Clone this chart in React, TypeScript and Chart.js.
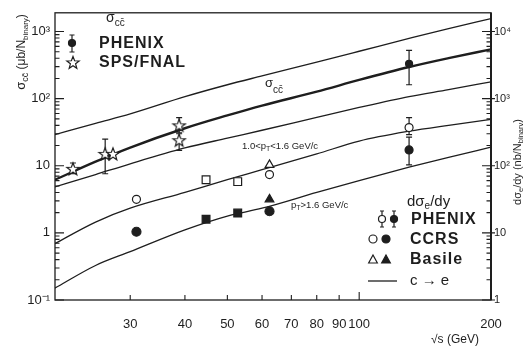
import React, { useEffect, useRef } from "react";
import { Chart, registerables } from "chart.js";

Chart.register(...registerables);

const FONT = '"Liberation Sans", Arial, Helvetica, sans-serif';
const INK = "#1e1e1e";

// ---- axis ticks ----
const xTickValues = [30, 40, 50, 60, 70, 80, 90, 100, 200];
const xTickLabels = ["30", "40", "50", "60", "70", "80", "90", "100", "200"];
const leftTickValues = [0.1, 1, 10, 100, 1000];
const leftTickLabels = ["10⁻¹", "1", "10", "10²", "10³"];
const rightTickValues = [1, 10, 100, 1000, 10000];
const rightTickLabels = ["1", "10", "10²", "10³", "10⁴"];

// ---- model curves, √s in GeV ----
const curveEnergies = [20, 25, 30, 40, 50, 60, 80, 100, 130, 160, 200];
// σ_cc̄ (μb/N_binary)
const sigmaUpper = [28.6, 42.9, 59.2, 107, 161, 218, 350, 508, 789, 1107, 1553];
const sigmaCentral = [6.0, 11.5, 18.7, 36.2, 56.2, 78.9, 127, 190, 296, 401, 543];
const sigmaLower = [4.75, 7.4, 10.7, 18.4, 25.8, 33.8, 52.6, 73.8, 107, 136, 178];
// c → e, dσ_e/dy (nb/N_binary)
const electronMidPt = [6.7, 14.5, 23.3, 40.1, 62.2, 87.3, 150, 233, 327, 401, 491];
const electronHighPt = [1.45, 3.27, 5.26, 11.1, 17.8, 23.3, 40.1, 60.2, 95.1, 133, 190];

// ---- measured σ_cc̄ ----
const phenixSigmaEnergy = [130];
const phenixSigma = [330];
const phenixSigmaLow = [161];
const phenixSigmaHigh = [525];

const spsEnergy = [22.2, 26.3, 27.4, 38.8, 38.8];
const spsSigma = [9.0, 15, 15, 40, 24];
const spsLow = [7.6, 7.6, null, 31, 17];
const spsHigh = [11, 25, null, 52, 30];

// ---- measured single electrons (open: 1.0<pT<1.6, filled: pT>1.6) ----
const phenixElecEnergy = [130];
const phenixElecMid = [370];
const phenixElecMidLow = [290];
const phenixElecMidHigh = [520];
const phenixElecHigh = [172];
const phenixElecHighLow = [103];
const phenixElecHighHigh = [267];

const ccrsEnergy = [31, 44.7, 52.8, 62.4];
const ccrsMid = [31.6, 62, 58, 74];
const ccrsHigh = [10.4, 16, 19.7, 21];
const ccrsShapes = ["circle", "rect", "rect", "circle"];

const basileEnergy = [62.4];
const basileMid = [103];
const basileHigh = [31.6];

const pts = (xs: number[], ys: number[]) => xs.map((x, i) => ({ x, y: ys[i] }));

type Part = { t: string; size: number; weight?: string; style?: string; dy?: number };
const fontOf = (p: Part) => `${p.style || "normal"} ${p.weight || "normal"} ${p.size}px ${FONT}`;

function rich(ctx: CanvasRenderingContext2D, x: number, y: number, parts: Part[], align = "left") {
  ctx.textBaseline = "alphabetic";
  ctx.textAlign = "left";
  const widths = parts.map((p) => {
    ctx.font = fontOf(p);
    return ctx.measureText(p.t).width;
  });
  const total = widths.reduce((a, b) => a + b, 0);
  let cx = align === "center" ? x - total / 2 : x;
  parts.forEach((p, i) => {
    ctx.font = fontOf(p);
    ctx.fillText(p.t, cx, y + (p.dy || 0));
    cx += widths[i];
  });
}

function mark(ctx: CanvasRenderingContext2D, kind: string, x: number, y: number, filled: boolean, r: number) {
  ctx.save();
  ctx.lineWidth = 1.2;
  ctx.strokeStyle = INK;
  ctx.fillStyle = filled ? INK : "#fff";
  ctx.beginPath();
  if (kind === "circle") ctx.arc(x, y, r, 0, Math.PI * 2);
  else if (kind === "rect") ctx.rect(x - r, y - r, 2 * r, 2 * r);
  else if (kind === "triangle") {
    ctx.moveTo(x, y - r);
    ctx.lineTo(x + r * 0.87, y + r * 0.6);
    ctx.lineTo(x - r * 0.87, y + r * 0.6);
    ctx.closePath();
  } else if (kind === "star") {
    for (let k = 0; k < 10; k++) {
      const a = -Math.PI / 2 + (k * Math.PI) / 5;
      const rr = k % 2 === 0 ? r : r * 0.42;
      const px = x + rr * Math.cos(a);
      const py = y + rr * Math.sin(a);
      if (k === 0) ctx.moveTo(px, py);
      else ctx.lineTo(px, py);
    }
    ctx.closePath();
  }
  ctx.fill();
  ctx.stroke();
  ctx.restore();
}

function vbar(ctx: CanvasRenderingContext2D, x: number, y1: number, y2: number, cap = 3) {
  ctx.save();
  ctx.strokeStyle = INK;
  ctx.lineWidth = 1.2;
  ctx.beginPath();
  ctx.moveTo(x, y1);
  ctx.lineTo(x, y2);
  ctx.moveTo(x - cap, y1);
  ctx.lineTo(x + cap, y1);
  ctx.moveTo(x - cap, y2);
  ctx.lineTo(x + cap, y2);
  ctx.stroke();
  ctx.restore();
}

function starImage() {
  const c = document.createElement("canvas");
  c.width = 16;
  c.height = 16;
  const g = c.getContext("2d")!;
  mark(g, "star", 8, 8.5, false, 6.5);
  return c;
}

const decor = {
  id: "decor",
  beforeDatasetsDraw(chart: any) {
    const ctx: CanvasRenderingContext2D = chart.ctx;
    chart.data.datasets.forEach((ds: any, i: number) => {
      if (!ds.errLow) return;
      const meta = chart.getDatasetMeta(i);
      const ys = chart.scales[ds.yAxisID];
      ds.errLow.forEach((lo: number | null, j: number) => {
        const hi = ds.errHigh[j];
        if (lo == null || hi == null) return;
        vbar(ctx, meta.data[j].x, ys.getPixelForValue(lo), ys.getPixelForValue(hi));
      });
    });
  },
  afterDraw(chart: any) {
    const ctx: CanvasRenderingContext2D = chart.ctx;
    const { left, right, top, bottom } = chart.chartArea;
    const yL = chart.scales.y;
    const yR = chart.scales.y2;
    const xs = chart.scales.x;
    ctx.save();
    ctx.strokeStyle = INK;
    ctx.fillStyle = INK;

    // frame
    ctx.lineWidth = 1.3;
    ctx.strokeRect(left, top, right - left, bottom - top);
    ctx.lineWidth = 2;
    ctx.beginPath();
    ctx.moveTo(right, top);
    ctx.lineTo(right, bottom);
    ctx.stroke();

    // inward ticks on the log axes
    ctx.lineWidth = 1.1;
    ctx.beginPath();
    for (let e = -1; e <= 3; e++) {
      for (let k = 1; k <= 9; k++) {
        const v = k * Math.pow(10, e);
        if (v < yL.min || v > yL.max) continue;
        const py = yL.getPixelForValue(v);
        ctx.moveTo(left, py);
        ctx.lineTo(left + (k === 1 ? 9 : 4.5), py);
      }
    }
    for (let e = 0; e <= 4; e++) {
      for (let k = 1; k <= 9; k++) {
        const v = k * Math.pow(10, e);
        if (v < yR.min || v > yR.max) continue;
        const py = yR.getPixelForValue(v);
        ctx.moveTo(right, py);
        ctx.lineTo(right - (k === 1 ? 9 : 4.5), py);
        if (k === 1) {
          ctx.moveTo(right, py);
          ctx.lineTo(right + 4, py);
        }
      }
    }
    xTickValues.forEach((v) => {
      const px = xs.getPixelForValue(v);
      ctx.moveTo(px, bottom);
      ctx.lineTo(px, bottom - (v === 100 || v === 200 ? 8 : 5));
    });
    ctx.stroke();

    // axis titles
    ctx.save();
    ctx.translate(21, 52);
    ctx.rotate(-Math.PI / 2);
    rich(ctx, 0, 4, [
      { t: "σ", size: 13 },
      { t: "cc̄", size: 9, dy: 3 },
      { t: " (μb/N", size: 12 },
      { t: "binary", size: 8, dy: 3 },
      { t: ")", size: 12 },
    ], "center");
    ctx.restore();

    ctx.save();
    ctx.translate(517, 162);
    ctx.rotate(-Math.PI / 2);
    rich(ctx, 0, 3.5, [
      { t: "dσ", size: 11 },
      { t: "e", size: 7.5, dy: 2.5 },
      { t: "/dy (nb/N", size: 11 },
      { t: "binary", size: 7.5, dy: 2.5 },
      { t: ")", size: 11 },
    ], "center");
    ctx.restore();

    rich(ctx, 455, 343, [
      { t: "√s", size: 12 },
      { t: " (GeV)", size: 12 },
    ], "center");

    // curve labels
    rich(ctx, 265, 87, [
      { t: "σ", size: 13 },
      { t: "cc̄", size: 10, dy: 6 },
    ]);
    rich(ctx, 242, 149, [
      { t: "1.0<p", size: 9.5 },
      { t: "T", size: 7, dy: 2 },
      { t: "<1.6 GeV/c", size: 9.5 },
    ]);
    rich(ctx, 291, 208, [
      { t: "p", size: 9.5 },
      { t: "T", size: 7, dy: 2 },
      { t: ">1.6 GeV/c", size: 9.5 },
    ]);

    // σ_cc̄ legend (top left)
    rich(ctx, 106, 22, [
      { t: "σ", size: 14 },
      { t: "cc̄", size: 10, dy: 4 },
    ]);
    vbar(ctx, 72, 35, 52, 2.5);
    mark(ctx, "circle", 72, 43, true, 3.5);
    mark(ctx, "star", 73, 63, false, 6.5);
    ctx.textBaseline = "middle";
    ctx.font = `bold 16px ${FONT}`;
    (ctx as any).letterSpacing = "1px";
    ctx.fillText("PHENIX", 99, 44);
    ctx.fillText("SPS/FNAL", 99, 63);

    // dσ_e/dy legend (bottom right)
    (ctx as any).letterSpacing = "0px";
    rich(ctx, 407, 206, [
      { t: "dσ", size: 15 },
      { t: "e", size: 10, dy: 3 },
      { t: "/dy", size: 15 },
    ]);
    vbar(ctx, 382, 211, 227, 2);
    mark(ctx, "circle", 382, 219, false, 3.5);
    vbar(ctx, 394, 211, 227, 2);
    mark(ctx, "circle", 394, 219, true, 3.5);
    mark(ctx, "circle", 373, 239, false, 4);
    mark(ctx, "circle", 386, 239, true, 4);
    mark(ctx, "triangle", 373, 260, false, 5);
    mark(ctx, "triangle", 386, 260, true, 5);
    ctx.lineWidth = 1.3;
    ctx.beginPath();
    ctx.moveTo(368, 281);
    ctx.lineTo(397, 281);
    ctx.stroke();
    ctx.textBaseline = "middle";
    ctx.font = `bold 16px ${FONT}`;
    (ctx as any).letterSpacing = "1px";
    ctx.fillText("PHENIX", 411, 220);
    ctx.fillText("CCRS", 410, 240);
    ctx.fillText("Basile", 410, 260);
    (ctx as any).letterSpacing = "0px";
    ctx.font = `15px ${FONT}`;
    ctx.fillText("c → e", 410, 281);
    ctx.restore();
  },
};

export default function App() {
  const ref = useRef<HTMLCanvasElement>(null);

  useEffect(() => {
    const star = starImage();
    const open = { pointBackgroundColor: "#fff", pointBorderColor: INK, pointBorderWidth: 1.2 };
    const solid = { pointBackgroundColor: INK, pointBorderColor: INK, pointBorderWidth: 1.2 };
    const curve = (data: number[], yAxisID: string, width: number) => ({
      data: pts(curveEnergies, data),
      yAxisID,
      showLine: true,
      pointRadius: 0,
      borderColor: INK,
      borderWidth: width,
      cubicInterpolationMode: "monotone",
    });

    const chart = new Chart(ref.current!, {
      type: "scatter",
      data: {
        datasets: [
          { data: pts(spsEnergy, spsSigma), yAxisID: "y", pointStyle: star, errLow: spsLow, errHigh: spsHigh },
          {
            data: pts(phenixSigmaEnergy, phenixSigma), yAxisID: "y", pointStyle: "circle", pointRadius: 3.5,
            errLow: phenixSigmaLow, errHigh: phenixSigmaHigh, ...solid,
          },
          {
            data: pts(phenixElecEnergy, phenixElecMid), yAxisID: "y2", pointStyle: "circle", pointRadius: 4,
            errLow: phenixElecMidLow, errHigh: phenixElecMidHigh, ...open,
          },
          {
            data: pts(phenixElecEnergy, phenixElecHigh), yAxisID: "y2", pointStyle: "circle", pointRadius: 4,
            errLow: phenixElecHighLow, errHigh: phenixElecHighHigh, ...solid,
          },
          {
            data: pts(ccrsEnergy, ccrsMid), yAxisID: "y2", pointStyle: ccrsShapes,
            pointRadius: ccrsShapes.map((s) => (s === "rect" ? 5.5 : 4)), ...open,
          },
          {
            data: pts(ccrsEnergy, ccrsHigh), yAxisID: "y2", pointStyle: ccrsShapes,
            pointRadius: ccrsShapes.map((s) => (s === "rect" ? 5.5 : 4.5)), ...solid,
          },
          { data: pts(basileEnergy, basileMid), yAxisID: "y2", pointStyle: "triangle", pointRadius: 5, ...open },
          { data: pts(basileEnergy, basileHigh), yAxisID: "y2", pointStyle: "triangle", pointRadius: 5, ...solid },
          curve(sigmaUpper, "y", 1.3),
          curve(sigmaCentral, "y", 2.4),
          curve(sigmaLower, "y", 1.3),
          curve(electronMidPt, "y2", 1.3),
          curve(electronHighPt, "y2", 1.3),
        ] as any,
      },
      options: {
        animation: false,
        responsive: false,
        devicePixelRatio: 1,
        events: [],
        layout: { padding: { top: 9, left: 0, right: 0, bottom: 0 } },
        plugins: { legend: { display: false }, tooltip: { enabled: false } },
        scales: {
          x: {
            type: "logarithmic",
            position: "bottom",
            min: 20.2,
            max: 200,
            grid: { display: false, drawTicks: false },
            border: { display: false },
            afterBuildTicks: (s: any) => {
              s.ticks = xTickValues.map((value) => ({ value }));
            },
            afterFit: (s: any) => {
              s.height = 49;
            },
            ticks: {
              autoSkip: false,
              maxRotation: 0,
              padding: 17,
              color: INK,
              font: { family: FONT, size: 13 },
              callback: (_v: any, i: number) => xTickLabels[i],
            },
          },
          y: {
            type: "logarithmic",
            position: "left",
            min: 0.1,
            max: 1900,
            grid: { display: false, drawTicks: false },
            border: { display: false },
            afterBuildTicks: (s: any) => {
              s.ticks = leftTickValues.map((value) => ({ value }));
            },
            afterFit: (s: any) => {
              s.width = 55;
            },
            ticks: {
              padding: 5,
              color: INK,
              font: { family: FONT, size: 13 },
              callback: (_v: any, i: number) => leftTickLabels[i],
            },
          },
          y2: {
            type: "logarithmic",
            position: "right",
            min: 1,
            max: 19000,
            grid: { display: false, drawTicks: false },
            border: { display: false },
            afterBuildTicks: (s: any) => {
              s.ticks = rightTickValues.map((value) => ({ value }));
            },
            afterFit: (s: any) => {
              s.width = 32;
            },
            ticks: {
              padding: 3,
              color: INK,
              font: { family: FONT, size: 11 },
              callback: (_v: any, i: number) => rightTickLabels[i],
            },
          },
        },
      } as any,
      plugins: [decor],
    });
    return () => chart.destroy();
  }, []);

  return (
    <div style={{ position: "fixed", left: 0, top: 0, width: 523, height: 349, background: "#fff" }}>
      <canvas ref={ref} width={523} height={349} style={{ display: "block" }} />
    </div>
  );
}
